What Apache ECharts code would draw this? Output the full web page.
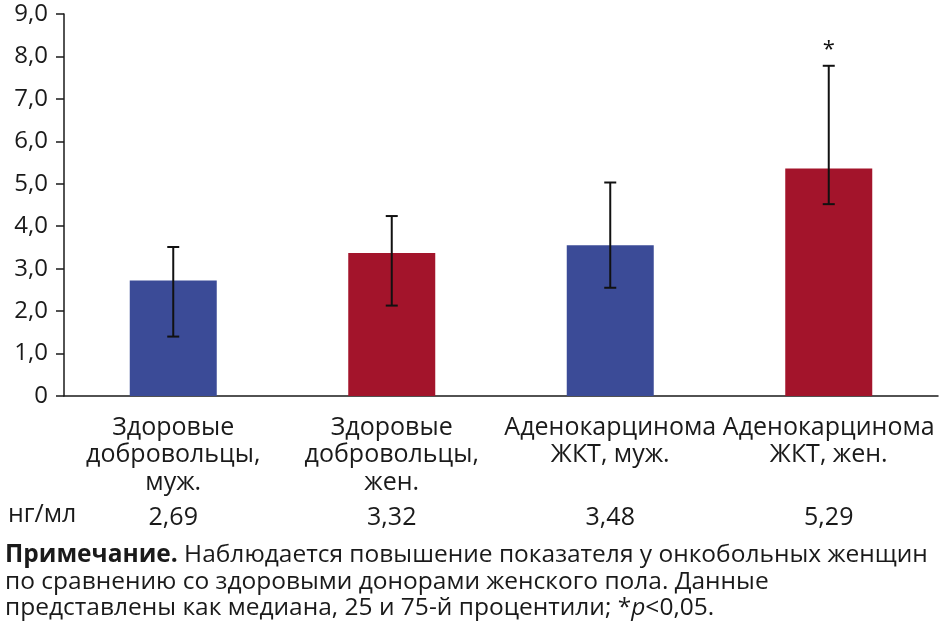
<!DOCTYPE html>
<html>
<head>
<meta charset="utf-8">
<script src="https://cdn.jsdelivr.net/npm/echarts@6/dist/echarts.min.js"></script>
<style>
  html, body { margin: 0; padding: 0; background: #fff; }
  #main { width: 941px; height: 626px; }
</style>
</head>
<body>
<div id="main"></div>
<script>
// группы
var categories = [
  'Здоровые\nдобровольцы,\nмуж.',
  'Здоровые\nдобровольцы,\nжен.',
  'Аденокарцинома\nЖКТ, муж.',
  'Аденокарцинома\nЖКТ, жен.'
];
// медиана (высота столбца)
var medians = [2.72, 3.37, 3.55, 5.36];
// подписи под осью, нг/мл
var medianLabels = ['2,69', '3,32', '3,48', '5,29'];
// 25-й и 75-й процентили
var q25 = [1.40, 2.13, 2.55, 4.52];
var q75 = [3.51, 4.24, 5.03, 7.78];
var marks = ['', '', '', '*'];
var barColors = ['#3b4b97', '#a3142b', '#3b4b97', '#a3142b'];
var yTicks = [0, 1, 2, 3, 4, 5, 6, 7, 8, 9];

var FONT = '"Open Sans", "Noto Sans", sans-serif';

var myChart = echarts.init(document.getElementById('main'));

var option = {
  animation: false,
  textStyle: { fontFamily: FONT },
  grid: { left: 64, right: 3, top: 14, bottom: 230, containLabel: false },
  xAxis: [{
    type: 'category',
    data: categories,
    axisLine: { lineStyle: { color: '#1a1a1a', width: 1.5 } },
    axisTick: { show: false },
    axisLabel: {
      interval: 0,
      margin: 18,
      fontSize: 25,
      lineHeight: 27.5,
      color: '#1a1a1a',
      fontFamily: FONT
    }
  }, {
    type: 'category',
    data: medianLabels,
    position: 'bottom',
    offset: 109,
    axisLine: { show: false },
    axisTick: { show: false },
    axisLabel: {
      interval: 0,
      margin: 0,
      fontSize: 25,
      color: '#1a1a1a',
      fontFamily: FONT
    }
  }],
  yAxis: {
    type: 'value',
    min: yTicks[0],
    max: yTicks[yTicks.length - 1],
    interval: 1,
    axisLine: { show: true, lineStyle: { color: '#1a1a1a', width: 1.5 } },
    axisTick: { show: true, length: 8, lineStyle: { color: '#1a1a1a', width: 1.5 } },
    splitLine: { show: false },
    axisLabel: {
      margin: 16,
      fontSize: 24,
      color: '#1a1a1a',
      fontFamily: FONT,
      formatter: function (v) {
        return v === 0 ? '0' : v.toFixed(1).replace('.', ',');
      }
    }
  },
  series: [{
    type: 'bar',
    barWidth: 87,
    data: medians.map(function (v, i) {
      return { value: v, itemStyle: { color: barColors[i] } };
    })
  }, {
    type: 'custom',
    data: q25.map(function (lo, i) { return [i, lo, q75[i]]; }),
    z: 10,
    renderItem: function (params, api) {
      var i = api.value(0);
      var lo = api.coord([i, api.value(1)]);
      var hi = api.coord([i, api.value(2)]);
      var x = lo[0], half = 6;
      var st = { stroke: '#111', lineWidth: 2 };
      var children = [
        { type: 'line', shape: { x1: x, y1: lo[1], x2: x, y2: hi[1] }, style: st },
        { type: 'line', shape: { x1: x - half, y1: hi[1], x2: x + half, y2: hi[1] }, style: st },
        { type: 'line', shape: { x1: x - half, y1: lo[1], x2: x + half, y2: lo[1] }, style: st }
      ];
      if (marks[i]) {
        children.push({
          type: 'text',
          style: {
            x: x, y: hi[1] - 16, text: marks[i],
            font: '22px ' + FONT, fill: '#111',
            align: 'center', verticalAlign: 'middle'
          }
        });
      }
      return { type: 'group', children: children };
    }
  }],
  graphic: [{
    type: 'text', left: 8, top: 502,
    style: { text: 'нг/мл', font: '25px ' + FONT, fill: '#1a1a1a' }
  }, {
    type: 'text', left: 5, top: 543,
    style: {
      text: '{b|Примечание.} Наблюдается повышение показателя у онкобольных женщин',
      font: '24.5px ' + FONT, fill: '#1a1a1a',
      rich: { b: { fontWeight: 'bold', fontSize: 24.5, fontFamily: FONT, fill: '#1a1a1a' } }
    }
  }, {
    type: 'text', left: 5, top: 570,
    style: {
      text: 'по сравнению со здоровыми донорами женского пола. Данные',
      font: '24.5px ' + FONT, fill: '#1a1a1a'
    }
  }, {
    type: 'text', left: 5, top: 596,
    style: {
      text: 'представлены как медиана, 25 и 75-й процентили; *{i|p}<0,05.',
      font: '24.5px ' + FONT, fill: '#1a1a1a',
      rich: { i: { fontStyle: 'italic', fontSize: 24.5, fontFamily: FONT, fill: '#1a1a1a' } }
    }
  }]
};

myChart.setOption(option);
</script>
</body>
</html>
